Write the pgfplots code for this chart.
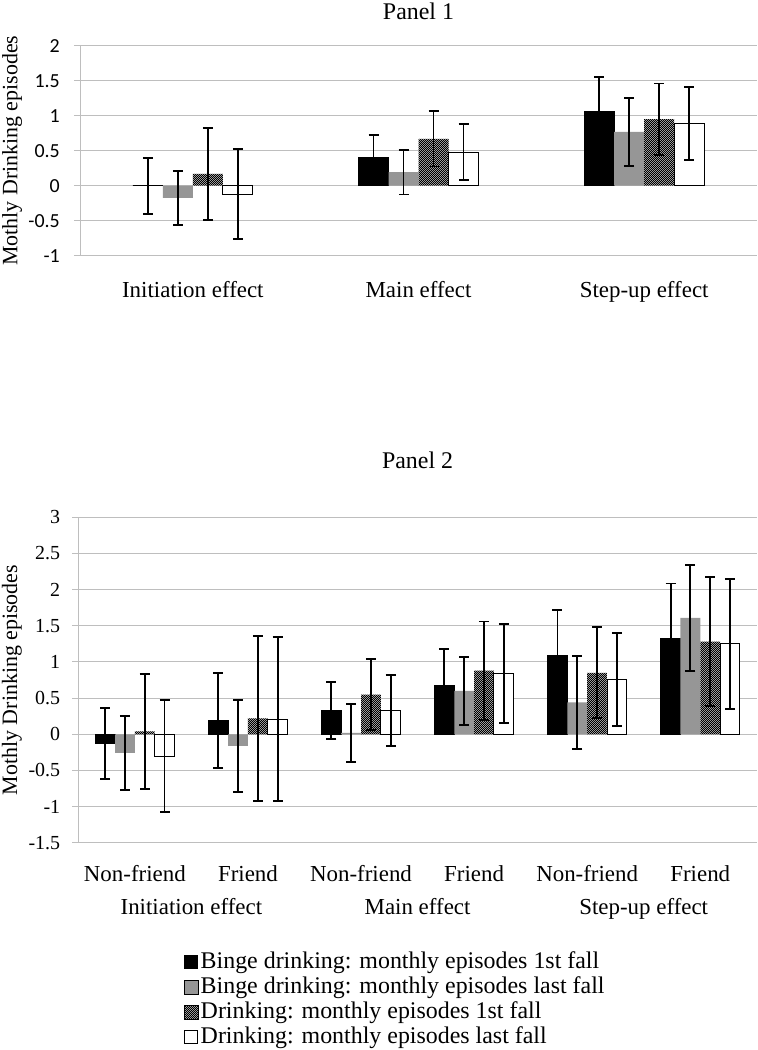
\documentclass[border=0pt]{standalone}
\usepackage{fontspec}
\setmainfont{Liberation Serif}
\newfontfamily\calib{Carlito}
\usepackage{pgfplots}
\usepackage{pgfplotstable}
\pgfplotsset{compat=1.18}
\usetikzlibrary{patterns}
\pgfdeclarepatternformonly{checker}{\pgfpointorigin}{\pgfqpoint{2.4bp}{2.4bp}}{\pgfqpoint{2.4bp}{2.4bp}}{%
 \pgfpathrectangle{\pgfpointorigin}{\pgfqpoint{1.2bp}{1.2bp}}%
 \pgfpathrectangle{\pgfqpoint{1.2bp}{1.2bp}}{\pgfqpoint{1.2bp}{1.2bp}}%
 \pgfusepath{fill}}
\definecolor{gridgray}{RGB}{190,190,190}
\definecolor{bargray}{RGB}{150,150,150}

\pgfplotstableread{
x b1 e1 b2 e2 b3 e3 b4 e4
0 0 0.40 -0.175 0.39 0.17 0.655 -0.12 0.645
1 0.41 0.32 0.195 0.32 0.67 0.395 0.48 0.40
2 1.065 0.49 0.77 0.485 0.95 0.51 0.89 0.525
}\tabA
\pgfplotstableread{
x b1 e1 b2 e2 b3 e3 b4 e4
0 -0.13 0.49 -0.255 0.51 0.04 0.79 -0.30 0.77
1 0.19 0.655 -0.16 0.64 0.22 1.14 0.21 1.135
2 0.33 0.39 0.02 0.40 0.55 0.49 0.33 0.495
3 0.68 0.50 0.60 0.475 0.88 0.68 0.84 0.68
4 1.085 0.635 0.44 0.645 0.85 0.63 0.755 0.64
5 1.33 0.755 1.61 0.73 1.28 0.89 1.25 0.90
}\tabB

\newcommand{\lblfont}{\fontsize{23}{23}\selectfont}
\pgfplotsset{
  every axis title/.style={at={(0.5,1)}, anchor=base, font=\fontsize{24}{24}\selectfont},
  every axis y label/.style={rotate=90, anchor=center, font=\fontsize{22}{22}\selectfont},
  mystyle/.style={
    scale only axis,
    ybar=0pt,
    axis lines*=left,
    axis line style={gridgray, line width=1bp},
    ymajorgrids,
    grid style={gridgray, line width=1bp},
    xtick style={draw=none},
    ytick style={gridgray, line width=1bp},
    tick align=outside,
    major tick length=6bp,
    ytick pos=left,
    xtick pos=bottom,
    /pgf/number format/.cd, assume math mode=true, fixed, precision=1,
    /pgfplots/.cd,
    ylabel={Mothly Drinking episodes},
    error bars/y dir=both,
    error bars/y explicit,
    error bars/error mark options={rotate=90, mark size=5bp, line width=1.9bp, black},
    error bars/error bar style={line width=1.9bp, black},
  },
  s1/.style={fill=black, draw=black, line width=0.8bp},
  s2/.style={fill=bargray, draw=none},
  s3/.style={fill=black!30, draw=none, postaction={pattern=checker, pattern color=black}},
  s4/.style={fill=white, draw=black, line width=0.8bp},
}

\begin{document}
\begin{tikzpicture}
\path[use as bounding box] (0,0) rectangle (758bp,-1050bp);

\begin{axis}[mystyle,
  at={(80bp,-45.7bp)}, anchor=north west,
  width=677bp, height=210bp,
  ymin=-1, ymax=2, ytick={-1,-0.5,0,0.5,1,1.5,2},
  yticklabel style={font=\calib\fontsize{20}{20}\selectfont, inner sep=0pt, xshift=-14bp},
  yticklabels={-1,-0.5,0,0.5,1,1.5,2},
  xmin=-0.5, xmax=2.5, xtick={0,1,2},
  xticklabels={Initiation effect, Main effect, Step-up effect},
  xticklabel style={font=\lblfont, anchor=base, yshift=-36bp, inner sep=0pt},
  bar width=30bp,
  title={Panel 1},
  title style={yshift=26.4bp},
  ylabel style={at={(axis description cs:-0.1004,0.5)}},
]
\addplot[s1] table[x=x, y=b1, y error=e1] {\tabA};
\addplot[s2] table[x=x, y=b2, y error=e2] {\tabA};
\addplot[s3] table[x=x, y=b3, y error=e3] {\tabA};
\addplot[s4] table[x=x, y=b4, y error=e4] {\tabA};
\end{axis}

\begin{axis}[mystyle,
  at={(78.3bp,-517.3bp)}, anchor=north west,
  width=678.5bp, height=325.5bp,
  ymin=-1.5, ymax=3, ytick={-1.5,-1,-0.5,0,0.5,1,1.5,2,2.5,3},
  yticklabels={-1.5,-1,-0.5,0,0.5,1,1.5,2,2.5,3},
  yticklabel style={font=\fontsize{20}{20}\selectfont, inner sep=0pt, xshift=-12bp},
  xmin=-0.5, xmax=5.5, xtick={0,1,2,3,4,5},
  xticklabels={Non-friend, Friend, Non-friend, Friend, Non-friend, Friend},
  xticklabel style={font=\lblfont, anchor=base, yshift=-33bp, inner sep=0pt},
  bar width=19.8bp,
  title={Panel 2},
  title style={yshift=49bp},
  ylabel style={at={(axis description cs:-0.0977,0.5)}},
  legend style={at={(axis description cs:0.151,-0.322)}, anchor=north west,
    draw=none, fill=none, font=\fontsize{24}{24}\selectfont, row sep=0bp,
    nodes={inner ysep=1.5bp, inner xsep=2.5bp, text height=17bp, text depth=5bp}},
  legend cell align=left,
  legend image code/.code={\draw[#1] (0bp,-6.5bp) rectangle (13.5bp,7bp);},
  clip=false,
]
\addplot[s1] table[x=x, y=b1, y error=e1] {\tabB};
\addplot[s2] table[x=x, y=b2, y error=e2] {\tabB};
\addplot[s3] table[x=x, y=b3, y error=e3] {\tabB};
\addplot[s4] table[x=x, y=b4, y error=e4] {\tabB};
\legend{Binge drinking: monthly episodes 1st fall,
        Binge drinking: monthly episodes last fall,
        Drinking: monthly episodes 1st fall,
        Drinking: monthly episodes last fall}
\node[font=\lblfont, anchor=base] at ([yshift=-72bp]axis cs:0.5,-1.5) {Initiation effect};
\node[font=\lblfont, anchor=base] at ([yshift=-72bp]axis cs:2.5,-1.5) {Main effect};
\node[font=\lblfont, anchor=base] at ([yshift=-72bp]axis cs:4.5,-1.5) {Step-up effect};
\end{axis}
\end{tikzpicture}
\end{document}
